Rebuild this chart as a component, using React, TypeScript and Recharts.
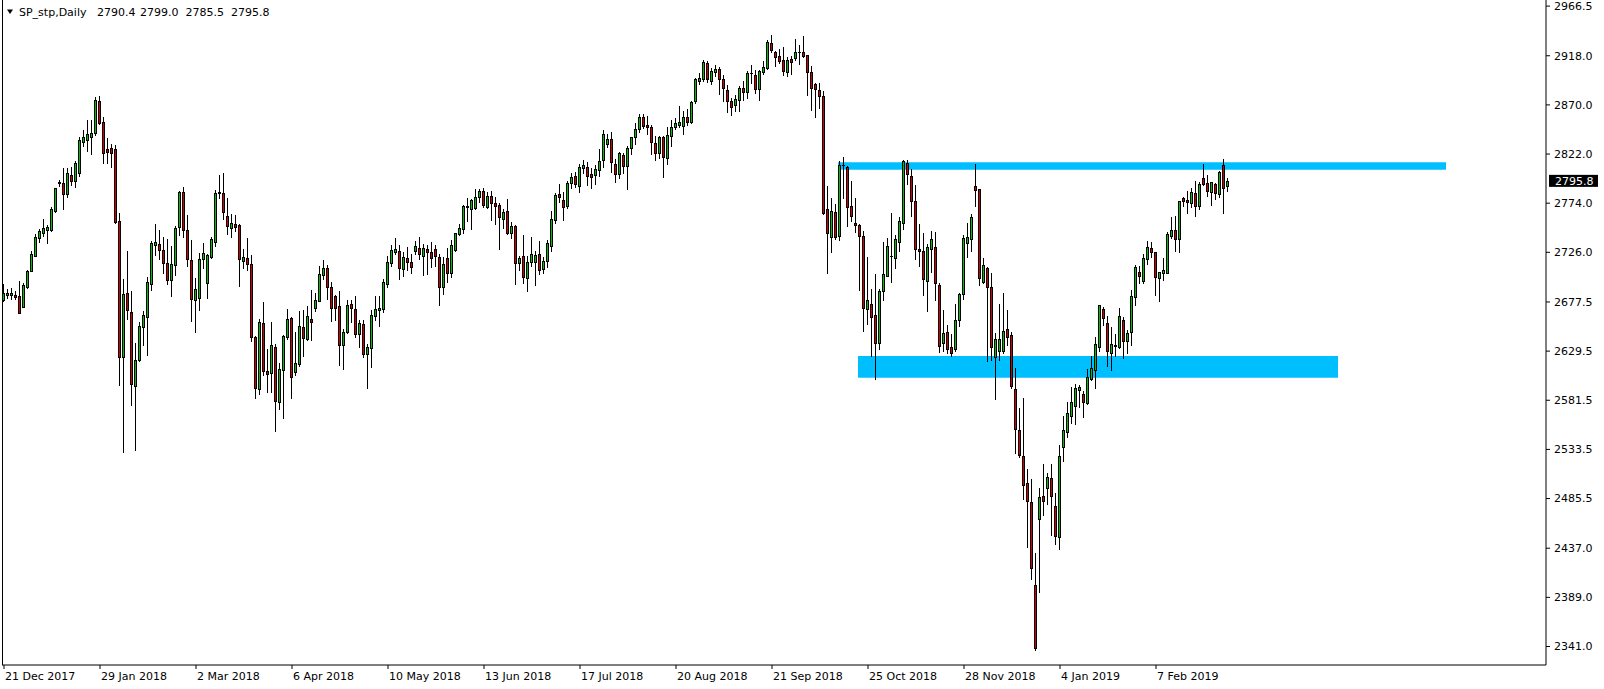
import React from 'react';
import {
  ComposedChart,
  Bar,
  XAxis,
  YAxis,
  ReferenceArea,
  ReferenceLine,
} from 'recharts';

const FONT = 'DejaVu Sans';
const BULL = '#00c000';
const BEAR = '#d00000';
const ZONE = '#00bfff';
const SLOTS = 386;

const dateTicks = [0, 24, 48, 72, 96, 120, 144, 168, 192, 216, 240, 264, 288];
const dateLabels = [
  '21 Dec 2017', '29 Jan 2018', '2 Mar 2018', '6 Apr 2018', '10 May 2018',
  '13 Jun 2018', '17 Jul 2018', '20 Aug 2018', '21 Sep 2018', '25 Oct 2018',
  '28 Nov 2018', '4 Jan 2019', '7 Feb 2019',
];
const priceTicks = [
  2966.5, 2918.0, 2870.0, 2822.0, 2774.0, 2726.0, 2677.5, 2629.5, 2581.5,
  2533.5, 2485.5, 2437.0, 2389.0, 2341.0,
];

const opens = [
  2679.4, 2683.9, 2684.5, 2684.8, 2683.2, 2672.8, 2691.7, 2708.0, 2722.6, 2740.2,
  2745.0, 2748.0, 2747.7, 2766.6, 2794.0, 2793.3, 2782.6, 2802.0, 2796.0, 2803.7,
  2834.0, 2835.7, 2838.9, 2842.2, 2873.8, 2852.9, 2826.9, 2828.0, 2826.9, 2756.2,
  2623.9, 2686.5, 2667.3, 2595.9, 2621.3, 2653.2, 2662.4, 2694.9, 2732.7, 2733.7,
  2728.2, 2715.8, 2698.9, 2713.2, 2751.0, 2784.5, 2747.7, 2718.4, 2679.3, 2681.0,
  2719.1, 2695.7, 2721.8, 2736.4, 2784.5, 2783.6, 2761.8, 2750.1, 2753.3, 2752.7,
  2717.5, 2720.1, 2714.6, 2643.3, 2592.2, 2656.6, 2610.1, 2607.8, 2633.5, 2579.5,
  2611.0, 2643.6, 2661.5, 2608.8, 2616.6, 2652.7, 2641.0, 2660.9, 2671.9, 2678.4,
  2703.8, 2710.4, 2692.4, 2683.3, 2673.6, 2635.5, 2648.5, 2675.2, 2670.3, 2646.5,
  2655.6, 2627.0, 2632.2, 2663.8, 2669.4, 2670.3, 2695.4, 2715.2, 2726.6, 2727.3,
  2709.4, 2720.1, 2716.2, 2727.6, 2729.9, 2722.7, 2728.9, 2726.0, 2728.9, 2721.1,
  2692.5, 2720.1, 2706.1, 2728.3, 2743.6, 2749.1, 2770.0, 2768.6, 2769.0, 2779.7,
  2785.6, 2770.6, 2780.7, 2773.9, 2771.9, 2758.9, 2766.0, 2744.6, 2751.7, 2715.9,
  2722.1, 2700.6, 2716.9, 2716.9, 2724.0, 2709.4, 2717.9, 2732.5, 2757.6, 2782.6,
  2777.1, 2771.6, 2794.0, 2800.2, 2791.1, 2808.4, 2809.7, 2802.5, 2801.9, 2806.4,
  2816.1, 2831.4, 2836.6, 2812.2, 2802.1, 2821.0, 2810.6, 2827.5, 2838.3, 2846.1,
  2857.8, 2850.0, 2848.7, 2832.4, 2823.3, 2838.3, 2817.8, 2839.9, 2848.0, 2850.7,
  2849.3, 2857.8, 2853.6, 2874.1, 2893.6, 2895.6, 2910.6, 2893.6, 2902.4, 2904.7,
  2895.3, 2884.5, 2873.8, 2869.9, 2874.8, 2886.1, 2882.9, 2900.8, 2899.2, 2885.5,
  2902.4, 2906.3, 2930.1, 2921.3, 2917.7, 2913.8, 2902.4, 2914.8, 2915.5, 2921.3,
  2921.3, 2918.7, 2901.8, 2890.4, 2884.5, 2878.7, 2768.0, 2741.3, 2765.0, 2741.9,
  2811.6, 2809.0, 2771.2, 2754.3, 2752.7, 2741.9, 2670.3, 2675.5, 2664.7, 2637.1,
  2688.5, 2703.2, 2722.0, 2720.7, 2736.4, 2754.9, 2813.2, 2800.5, 2776.1, 2729.2,
  2727.3, 2698.3, 2728.9, 2730.9, 2694.1, 2637.1, 2647.8, 2633.2, 2631.2, 2659.8,
  2685.3, 2735.4, 2739.3, 2791.1, 2787.5, 2697.3, 2711.0, 2692.4, 2624.0, 2629.9,
  2629.9, 2650.7, 2645.2, 2592.1, 2552.4, 2527.0, 2501.0, 2482.4, 2401.0, 2465.1,
  2487.9, 2495.4, 2505.2, 2478.2, 2448.2, 2535.5, 2550.8, 2566.1, 2575.8, 2591.5,
  2587.6, 2578.5, 2602.6, 2611.1, 2633.8, 2670.3, 2656.6, 2628.0, 2635.0, 2633.2,
  2659.9, 2639.7, 2648.5, 2682.0, 2706.8, 2698.3, 2719.1, 2729.9, 2726.0, 2701.2,
  2706.1, 2706.1, 2741.9, 2747.8, 2738.7, 2778.7, 2777.0, 2774.5, 2783.6, 2771.5,
  2798.3, 2793.4, 2785.2, 2792.4, 2782.6, 2811.3, 2790.4,
];

const highs = [
  2695.0, 2689.7, 2691.0, 2688.4, 2697.6, 2695.6, 2709.0, 2727.0, 2744.0, 2749.0,
  2759.0, 2753.0, 2770.0, 2789.0, 2796.6, 2808.0, 2808.0, 2809.0, 2815.0, 2839.0,
  2845.0, 2855.0, 2855.0, 2878.0, 2878.6, 2858.0, 2838.0, 2832.0, 2831.0, 2764.0,
  2700.0, 2727.0, 2688.0, 2637.0, 2658.0, 2669.0, 2702.0, 2737.0, 2754.0, 2748.0,
  2741.0, 2739.0, 2732.0, 2752.0, 2786.0, 2790.0, 2762.0, 2738.0, 2701.0, 2725.0,
  2734.8, 2724.5, 2741.3, 2787.0, 2801.5, 2803.5, 2779.0, 2763.0, 2762.0, 2753.5,
  2729.0, 2740.0, 2723.0, 2644.0, 2661.0, 2677.0, 2632.0, 2658.0, 2636.0, 2618.0,
  2645.0, 2671.0, 2663.0, 2648.0, 2669.0, 2670.0, 2674.0, 2689.0, 2686.0, 2713.0,
  2718.6, 2714.0, 2697.0, 2684.0, 2688.0, 2651.0, 2679.0, 2679.0, 2683.0, 2660.0,
  2660.0, 2636.0, 2670.0, 2683.0, 2683.0, 2700.0, 2722.0, 2733.0, 2740.0, 2733.0,
  2726.6, 2730.9, 2724.0, 2737.0, 2741.0, 2734.0, 2733.0, 2736.0, 2733.0, 2724.0,
  2721.0, 2730.0, 2738.0, 2745.0, 2754.0, 2772.0, 2779.0, 2778.0, 2788.0, 2788.0,
  2789.0, 2785.0, 2786.0, 2780.0, 2774.0, 2768.0, 2778.0, 2756.0, 2753.0, 2722.0,
  2743.0, 2722.0, 2741.0, 2727.0, 2737.0, 2721.0, 2738.0, 2766.0, 2784.0, 2793.0,
  2785.0, 2796.0, 2803.0, 2804.0, 2812.0, 2816.0, 2814.0, 2808.0, 2811.0, 2827.0,
  2845.4, 2842.0, 2844.0, 2817.0, 2824.0, 2823.0, 2830.0, 2839.0, 2852.0, 2861.0,
  2861.0, 2859.0, 2850.0, 2840.0, 2840.0, 2840.0, 2848.0, 2855.0, 2857.0, 2869.0,
  2864.0, 2866.0, 2874.0, 2896.0, 2901.0, 2914.0, 2913.0, 2906.0, 2909.0, 2907.0,
  2899.0, 2889.0, 2877.0, 2880.0, 2888.0, 2893.0, 2903.0, 2909.0, 2904.0, 2904.0,
  2913.0, 2933.0, 2938.0, 2923.0, 2925.0, 2927.0, 2917.0, 2918.0, 2934.0, 2928.5,
  2937.3, 2919.0, 2908.0, 2891.7, 2891.0, 2883.5, 2790.8, 2778.7, 2772.9, 2815.0,
  2818.8, 2810.0, 2795.7, 2778.7, 2754.0, 2746.4, 2721.2, 2690.0, 2705.0, 2690.0,
  2736.0, 2740.0, 2764.7, 2742.5, 2760.9, 2816.5, 2815.8, 2807.0, 2792.0, 2754.0,
  2745.0, 2734.0, 2746.4, 2745.7, 2696.0, 2669.3, 2654.6, 2646.0, 2675.5, 2686.0,
  2743.0, 2754.3, 2763.0, 2812.3, 2788.0, 2720.0, 2712.0, 2706.0, 2647.5, 2676.0,
  2685.9, 2669.6, 2648.5, 2612.6, 2573.6, 2583.3, 2514.0, 2504.2, 2431.9, 2495.4,
  2519.2, 2510.7, 2519.2, 2490.5, 2537.8, 2566.1, 2580.1, 2594.1, 2597.3, 2596.4,
  2590.8, 2611.7, 2624.7, 2643.6, 2675.0, 2672.9, 2663.8, 2652.7, 2646.2, 2671.9,
  2663.1, 2650.1, 2689.2, 2713.6, 2713.0, 2724.3, 2737.0, 2735.7, 2726.5, 2707.1,
  2720.1, 2746.2, 2760.1, 2761.5, 2776.5, 2780.3, 2786.2, 2788.5, 2795.6, 2795.0,
  2812.3, 2801.5, 2795.0, 2793.4, 2805.4, 2816.8, 2799.0,
];

const lows = [
  2678.7, 2681.3, 2680.6, 2680.6, 2667.0, 2672.8, 2691.0, 2708.0, 2722.0, 2736.3,
  2742.0, 2735.0, 2747.0, 2765.0, 2790.7, 2768.6, 2780.0, 2792.0, 2790.0, 2801.0,
  2830.0, 2825.0, 2822.0, 2841.0, 2851.0, 2813.4, 2813.0, 2809.0, 2755.0, 2596.0,
  2531.1, 2661.0, 2577.0, 2532.7, 2620.0, 2635.0, 2626.0, 2689.6, 2723.5, 2719.0,
  2706.0, 2695.0, 2683.0, 2704.0, 2743.0, 2741.0, 2713.0, 2659.0, 2648.0, 2670.0,
  2711.0, 2681.7, 2720.0, 2732.0, 2779.4, 2759.0, 2744.0, 2741.0, 2747.0, 2693.0,
  2711.0, 2709.0, 2639.0, 2584.0, 2588.0, 2606.0, 2590.0, 2590.0, 2551.1, 2572.5,
  2564.0, 2641.0, 2584.0, 2606.0, 2615.0, 2625.0, 2640.0, 2640.0, 2669.0, 2678.0,
  2700.0, 2680.0, 2659.0, 2660.0, 2616.0, 2612.0, 2647.5, 2658.0, 2643.0, 2634.0,
  2624.0, 2593.0, 2614.0, 2660.0, 2654.0, 2668.0, 2692.0, 2713.0, 2724.0, 2700.0,
  2703.0, 2709.0, 2706.0, 2724.0, 2719.0, 2704.0, 2705.0, 2712.0, 2713.0, 2674.6,
  2685.0, 2697.0, 2702.0, 2727.0, 2743.0, 2745.0, 2757.0, 2749.0, 2768.0, 2775.0,
  2770.0, 2769.0, 2758.0, 2754.0, 2729.0, 2750.0, 2744.0, 2740.0, 2695.0, 2709.0,
  2696.0, 2688.0, 2713.0, 2694.0, 2705.0, 2706.0, 2712.0, 2727.0, 2755.0, 2775.0,
  2758.0, 2769.0, 2789.0, 2790.0, 2785.0, 2803.0, 2792.0, 2789.0, 2793.0, 2801.0,
  2809.6, 2829.0, 2804.0, 2795.0, 2799.0, 2803.0, 2788.0, 2822.0, 2832.0, 2844.0,
  2847.0, 2842.0, 2822.0, 2816.0, 2818.0, 2800.0, 2812.0, 2830.0, 2846.0, 2848.0,
  2842.0, 2850.0, 2852.0, 2872.0, 2890.0, 2893.0, 2892.0, 2890.0, 2898.0, 2881.0,
  2874.0, 2863.0, 2860.0, 2864.0, 2864.0, 2875.0, 2877.0, 2891.0, 2882.0, 2875.0,
  2900.0, 2905.0, 2922.0, 2908.0, 2911.0, 2899.0, 2898.0, 2900.0, 2914.0, 2909.6,
  2917.1, 2879.6, 2865.0, 2858.5, 2866.6, 2763.0, 2706.1, 2726.6, 2739.0, 2738.0,
  2778.7, 2751.6, 2757.0, 2746.1, 2689.2, 2649.4, 2656.0, 2625.0, 2601.9, 2631.6,
  2679.7, 2703.0, 2697.3, 2710.5, 2727.0, 2749.0, 2792.3, 2761.5, 2719.6, 2712.7,
  2684.0, 2669.0, 2707.0, 2679.4, 2629.0, 2629.3, 2627.4, 2625.0, 2630.0, 2654.3,
  2680.0, 2721.5, 2727.0, 2771.2, 2694.0, 2696.0, 2620.1, 2621.0, 2582.4, 2620.8,
  2628.0, 2635.4, 2593.1, 2530.3, 2526.4, 2484.7, 2438.4, 2406.5, 2338.0, 2394.5,
  2469.4, 2480.1, 2449.8, 2441.0, 2435.8, 2522.5, 2545.9, 2558.9, 2558.3, 2575.2,
  2565.4, 2577.8, 2601.2, 2593.1, 2629.9, 2655.0, 2614.9, 2611.0, 2624.7, 2632.2,
  2622.4, 2627.3, 2635.4, 2674.5, 2695.9, 2696.3, 2714.6, 2721.7, 2684.3, 2678.7,
  2698.9, 2705.5, 2739.6, 2727.6, 2726.6, 2771.2, 2764.7, 2770.6, 2761.5, 2768.3,
  2791.7, 2781.0, 2772.2, 2778.1, 2779.7, 2764.7, 2785.5,
];

const closes = [
  2685.8, 2685.8, 2685.8, 2682.6, 2667.0, 2693.6, 2708.0, 2723.9, 2740.6, 2746.7,
  2749.4, 2751.0, 2767.9, 2788.4, 2794.3, 2782.6, 2803.7, 2795.9, 2812.9, 2835.7,
  2838.3, 2841.5, 2842.8, 2874.8, 2852.6, 2823.3, 2823.6, 2823.3, 2755.9, 2623.9,
  2685.2, 2669.5, 2597.2, 2621.3, 2653.9, 2664.3, 2696.9, 2734.7, 2736.0, 2728.2,
  2715.8, 2698.9, 2714.5, 2749.7, 2784.5, 2747.7, 2719.7, 2680.0, 2689.7, 2719.1,
  2725.0, 2723.4, 2739.0, 2783.6, 2784.0, 2765.1, 2751.4, 2754.3, 2750.7, 2719.5,
  2721.1, 2714.9, 2643.3, 2593.1, 2657.6, 2610.4, 2606.8, 2635.5, 2581.1, 2612.0,
  2643.9, 2660.9, 2603.9, 2617.5, 2653.7, 2642.0, 2663.8, 2657.6, 2679.4, 2704.8,
  2710.4, 2692.4, 2671.3, 2671.9, 2635.5, 2648.5, 2674.5, 2671.9, 2646.5, 2656.6,
  2627.0, 2633.5, 2664.4, 2670.3, 2671.3, 2696.7, 2716.2, 2727.9, 2728.9, 2710.4,
  2721.1, 2716.9, 2711.3, 2732.2, 2724.4, 2729.9, 2726.6, 2720.1, 2722.7, 2692.5,
  2714.3, 2706.1, 2733.1, 2744.6, 2750.1, 2771.3, 2771.3, 2777.1, 2779.7, 2786.2,
  2772.6, 2780.7, 2773.9, 2771.6, 2760.2, 2765.1, 2745.2, 2751.4, 2715.9, 2720.1,
  2701.6, 2716.2, 2724.7, 2723.0, 2708.7, 2717.9, 2734.8, 2758.2, 2782.3, 2780.4,
  2770.6, 2793.4, 2799.3, 2792.4, 2809.0, 2811.0, 2800.9, 2799.9, 2807.1, 2815.2,
  2841.5, 2836.6, 2813.9, 2802.1, 2822.6, 2810.6, 2828.2, 2838.3, 2846.4, 2857.8,
  2849.3, 2848.7, 2834.0, 2822.6, 2838.3, 2819.4, 2840.6, 2848.7, 2852.6, 2853.3,
  2857.8, 2853.6, 2873.1, 2894.9, 2895.9, 2911.6, 2894.9, 2903.1, 2904.7, 2894.9,
  2886.1, 2874.1, 2868.2, 2875.7, 2886.1, 2882.9, 2901.5, 2901.0, 2885.5, 2903.1,
  2907.3, 2931.1, 2923.6, 2917.1, 2913.2, 2903.4, 2913.8, 2912.2, 2921.3, 2921.5,
  2918.1, 2901.8, 2886.2, 2885.2, 2879.0, 2764.0, 2744.5, 2766.7, 2740.9, 2811.0,
  2811.0, 2770.6, 2761.5, 2753.0, 2741.9, 2671.9, 2679.4, 2663.1, 2637.7, 2688.5,
  2704.8, 2732.1, 2722.3, 2739.0, 2756.6, 2814.9, 2802.8, 2776.4, 2728.9, 2727.0,
  2700.2, 2730.9, 2738.7, 2695.7, 2634.8, 2646.8, 2631.2, 2627.3, 2659.5, 2685.3,
  2739.6, 2740.6, 2760.8, 2786.9, 2700.6, 2713.3, 2692.4, 2633.2, 2641.0, 2641.0,
  2649.4, 2643.6, 2595.4, 2553.1, 2528.0, 2498.7, 2483.4, 2417.3, 2339.1, 2486.6,
  2483.4, 2506.2, 2487.9, 2448.9, 2527.0, 2552.4, 2568.7, 2579.4, 2593.1, 2594.1,
  2580.1, 2603.9, 2612.7, 2636.4, 2674.5, 2661.5, 2629.9, 2636.4, 2634.8, 2663.8,
  2639.7, 2647.5, 2683.3, 2711.3, 2703.2, 2720.1, 2730.9, 2726.6, 2702.2, 2706.4,
  2708.7, 2743.6, 2747.8, 2738.7, 2776.1, 2776.4, 2775.4, 2784.6, 2771.2, 2792.4,
  2792.7, 2786.2, 2794.3, 2783.6, 2804.1, 2788.5, 2795.8,
];

// blue zones drawn on the chart: bar index range + price range
const zones = [
  { from: 209, to: 360, low: 2806.7, high: 2813.9 },
  { from: 214, to: 333, low: 2603.5, high: 2624.7 },
];

const header = { symbol: 'SP_stp,Daily', ohlc: ['2790.4', '2799.0', '2785.5', '2795.8'] };
const lastPrice = 2795.8;

const rows = Array.from({ length: SLOTS }, (_, i) => ({
  i,
  open: opens[i],
  high: highs[i],
  low: lows[i],
  close: closes[i],
  range: i < closes.length ? [lows[i], highs[i]] : null,
}));

function Candle(props: any) {
  const { x, y, width, height, payload } = props;
  if (!payload || payload.range == null) return null;
  const { open, close, high, low } = payload;
  const top = Math.min(y, y + height);
  const h = Math.abs(height);
  const k = high > low ? h / (high - low) : 0;
  const yOf = (v: number) => top + (high - v) * k;
  const cx = Math.floor(x + width / 2);
  const bTop = Math.round(yOf(Math.max(open, close)));
  const bBot = Math.round(yOf(Math.min(open, close)));
  const up = close >= open;
  return (
    <g>
      <line
        x1={cx + 0.5}
        x2={cx + 0.5}
        y1={Math.round(top)}
        y2={Math.round(top + h) + 1}
        stroke="#000"
        strokeWidth={1}
      />
      {bBot - bTop >= 1 ? (
        <rect
          x={cx - 0.5}
          y={bTop + 0.5}
          width={2}
          height={bBot - bTop}
          fill={up ? BULL : BEAR}
          stroke="#000"
          strokeWidth={1}
        />
      ) : (
        <line x1={cx - 1} x2={cx + 2} y1={bTop + 0.5} y2={bTop + 0.5} stroke="#000" />
      )}
    </g>
  );
}

function DateTick({ x, y, payload }: any) {
  const idx = dateTicks.indexOf(payload.value);
  return (
    <text x={x + 1} y={y + 9} fontSize={11} fontFamily={FONT} fill="#000">
      {dateLabels[idx]}
    </text>
  );
}

function PriceTag({ viewBox }: any) {
  if (!viewBox) return null;
  const left = viewBox.x + viewBox.width + 3;
  return (
    <g>
      <rect x={left} y={viewBox.y - 6} width={49} height={12} fill="#000" />
      <text
        x={left + 6}
        y={viewBox.y + 4}
        fontSize={11}
        fontFamily={FONT}
        fill="#fff"
      >
        {lastPrice.toFixed(1)}
      </text>
    </g>
  );
}

export default function App() {
  return (
    <div
      style={{
        position: 'absolute',
        left: 0,
        top: 0,
        width: 1604,
        height: 689,
        background: '#fff',
        fontFamily: FONT,
      }}
    >
      <ComposedChart
        width={1604}
        height={689}
        data={rows}
        margin={{ top: 0, right: 0, bottom: 0, left: 2 }}
      >
        <XAxis
          dataKey="i"
          type="category"
          ticks={dateTicks}
          interval={0}
          height={24}
          tickSize={4}
          tickMargin={2}
          axisLine={{ stroke: '#000' }}
          tickLine={{ stroke: '#000' }}
          tick={<DateTick />}
        />
        <YAxis
          orientation="right"
          type="number"
          domain={[2322.92, 2972.46]}
          allowDataOverflow
          ticks={priceTicks}
          interval={0}
          width={58}
          tickSize={4}
          tickMargin={4}
          axisLine={{ stroke: '#000' }}
          tickLine={{ stroke: '#000' }}
          tick={{ fill: '#000', fontSize: 11, fontFamily: FONT }}
          tickFormatter={(v: number) => v.toFixed(1)}
        />
        {zones.map((z, n) => (
          <ReferenceArea
            key={n}
            x1={z.from}
            x2={z.to}
            y1={z.low}
            y2={z.high}
            fill={ZONE}
            fillOpacity={1}
            stroke="none"
          />
        ))}
        <Bar
          dataKey="range"
          isAnimationActive={false}
          shape={(p: any) => <Candle {...p} />}
        />
        <ReferenceLine y={lastPrice} stroke="none" label={<PriceTag />} />
      </ComposedChart>
      <div
        style={{
          position: 'absolute',
          left: 2,
          top: 0,
          width: 1,
          height: 665,
          background: '#000',
        }}
      />
      <svg
        width={300}
        height={24}
        style={{ position: 'absolute', left: 0, top: 0 }}
      >
        <polygon points="7,9.5 13,9.5 10,14" fill="#000" />
        <text x={19} y={16} fontSize={11} fontFamily={FONT} fill="#000">
          {header.symbol}
        </text>
        {header.ohlc.map((v, n) => (
          <text
            key={n}
            x={[97, 140, 185.5, 231][n]}
            y={16}
            fontSize={11}
            fontFamily={FONT}
            fill="#000"
          >
            {v}
          </text>
        ))}
      </svg>
    </div>
  );
}
